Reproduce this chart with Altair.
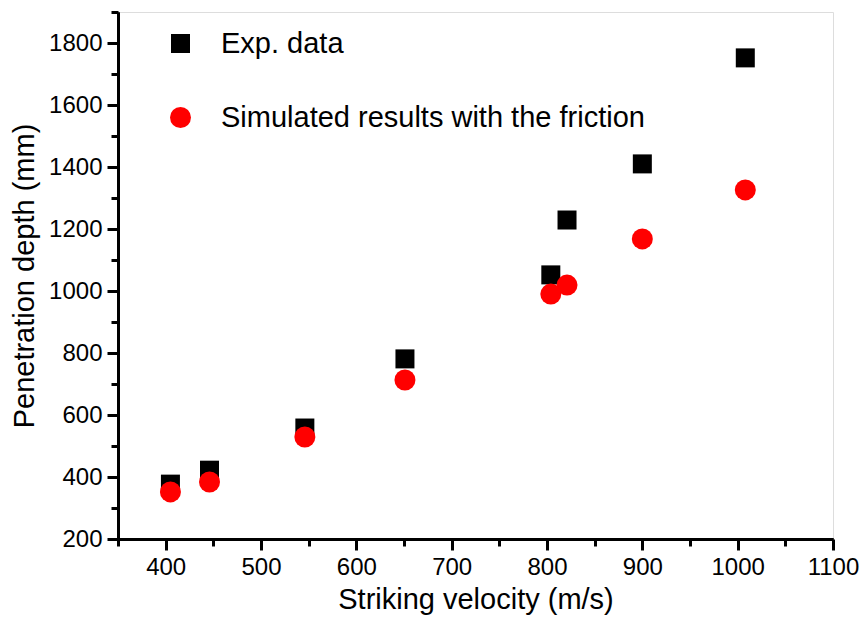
import altair as alt
import pandas as pd

# Data
velocity_exp = [405, 446, 546, 651, 804, 821, 900, 1008]
depth_exp = [377, 422, 558, 781, 1052, 1229, 1410, 1752]
velocity_sim = [405, 446, 546, 651, 804, 821, 900, 1008]
depth_sim = [352, 384, 529, 713, 990, 1019, 1168, 1326]
series_names = ["Exp. data", "Simulated results with the friction"]

x_major = [400, 500, 600, 700, 800, 900, 1000, 1100]
x_minor = [350, 450, 550, 650, 750, 850, 950, 1050]
y_major = [200, 400, 600, 800, 1000, 1200, 1400, 1600, 1800]
y_minor = [300, 500, 700, 900, 1100, 1300, 1500, 1700, 1900]

rows = []
for v, d in zip(velocity_exp, depth_exp):
    rows.append({"v": v, "d": d, "s": series_names[0]})
for v, d in zip(velocity_sim, depth_sim):
    rows.append({"v": v, "d": d, "s": series_names[1]})
df = pd.DataFrame(rows)

FONT = "Liberation Sans"
xscale = alt.Scale(domain=[350, 1100], nice=False, zero=False)
yscale = alt.Scale(domain=[200, 1900], nice=False, zero=False)

common_axis = dict(domainColor="black", domainWidth=3, tickColor="black", tickWidth=3,
                   grid=False, labelFont=FONT, titleFont=FONT, labelColor="black",
                   titleColor="black")

legend_kw = dict(title=None, orient="none", legendX=48, legendY=17,
                 labelFont=FONT, labelFontSize=29, labelColor="black",
                 symbolSize=400, labelOffset=26, rowPadding=44,
                 padding=0, symbolStrokeWidth=0, labelLimit=600)

points = alt.Chart(df).mark_point(filled=True, opacity=1).encode(
    x=alt.X("v:Q", scale=xscale,
            axis=alt.Axis(values=x_major, format="d", tickSize=11, labelFontSize=24,
                          labelPadding=5, title="Striking velocity (m/s)", titleFontSize=29,
                          titleFontWeight="normal", titlePadding=6, orient="bottom",
                          labelFlush=False, **common_axis)),
    y=alt.Y("d:Q", scale=yscale,
            axis=alt.Axis(values=y_major, format="d", tickSize=11, labelFontSize=24,
                          labelPadding=5, title="Penetration depth (mm)", titleFontSize=29,
                          titleFontWeight="normal", titlePadding=9, orient="left",
                          labelFlush=False, **common_axis)),
    color=alt.Color("s:N", scale=alt.Scale(domain=series_names, range=["black", "red"]),
                    legend=alt.Legend(**legend_kw)),
    shape=alt.Shape("s:N", scale=alt.Scale(domain=series_names, range=["square", "circle"]),
                    legend=alt.Legend(**legend_kw)),
    size=alt.Size("s:N", scale=alt.Scale(domain=series_names, range=[361, 441]), legend=None),
)

minor = alt.Chart(df).mark_point(opacity=0).encode(
    x=alt.X("v:Q", scale=xscale,
            axis=alt.Axis(values=x_minor, tickSize=7, labels=False, title=None,
                          orient="bottom", **common_axis)),
    y=alt.Y("d:Q", scale=yscale,
            axis=alt.Axis(values=y_minor, tickSize=7, labels=False, title=None,
                          orient="left", **common_axis)),
)

chart = alt.layer(points, minor).resolve_axis(x="independent", y="independent").properties(
    width=715, height=527,
    autosize=alt.AutoSizeParams(type="none"),
    padding={"left": 110, "top": 4, "right": 27, "bottom": 82},
).configure_view(stroke=None).configure(background="white")

chart.save("out.html", embed_options={"renderer": "svg", "actions": False})
